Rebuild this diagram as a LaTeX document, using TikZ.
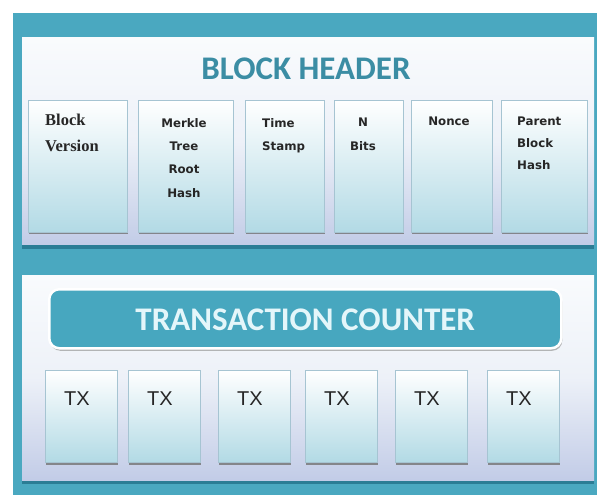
\documentclass[tikz,border=0pt]{standalone}
\usepackage{fontspec}
\usetikzlibrary{shadows}
\newfontfamily\headfont{Carlito}
\newfontfamily\fieldfont{DejaVu Sans}
\newfontfamily\versionfont{Liberation Serif}
\newfontfamily\txfont{Liberation Sans}
\definecolor{frameteal}{HTML}{4AA8C0}
\definecolor{edgeteal}{HTML}{2B7D95}
\definecolor{titleteal}{HTML}{3B8DA4}
\definecolor{paneltop}{HTML}{F9FBFD}
\definecolor{panelmid}{HTML}{EDF1F8}
\definecolor{panelbot}{HTML}{C2CCE7}
\definecolor{cellbot}{HTML}{B2DAE5}
\definecolor{celledge}{HTML}{A6C4D2}
\definecolor{counterfill}{HTML}{47A7BF}
\definecolor{countertext}{HTML}{E4F6FA}
\begin{document}
\begin{tikzpicture}[x=1pt,y=-1pt,
  frame/.style={anchor=north west, inner sep=0pt, outer sep=0pt, fill=frameteal},
  panel/.style={anchor=north west, inner sep=0pt, outer sep=0pt,
    top color=paneltop, bottom color=panelbot, middle color=panelmid,
    drop shadow={shadow xshift=0pt, shadow yshift=-3.5pt, fill=edgeteal, opacity=1}},
  cell/.style={anchor=north west, inner sep=0pt, draw=celledge, line width=0.6pt,
    top color=white, bottom color=cellbot,
    drop shadow={shadow xshift=0.6pt, shadow yshift=-2.2pt, fill=black!55, opacity=0.8}},
  counter/.style={anchor=north west, inner sep=0pt, rounded corners=10pt,
    fill=counterfill, draw=white, line width=2.5pt,
    drop shadow={shadow xshift=1pt, shadow yshift=-2.5pt, fill=black!40, opacity=0.7}},
  title/.style={font=\headfont\bfseries\fontsize{33}{38}\selectfont, text=titleteal, inner sep=0pt},
  countertitle/.style={font=\headfont\bfseries\fontsize{33}{38}\selectfont, text=countertext, inner sep=0pt},
  field/.style={font=\fieldfont\bfseries\fontsize{11.8}{23.3}\selectfont, inner sep=0pt, text=black!85},
  version/.style={font=\versionfont\bfseries\fontsize{16.5}{26}\selectfont, inner sep=0pt, text=black!85},
  txlabel/.style={font=\txfont\fontsize{20}{24}\selectfont, inner sep=0pt, text=black!85}]
\useasboundingbox (0,0) rectangle (597,497);
\fill[white] (0,0) rectangle (597,497);

% teal frame and the two panels
\node[frame, minimum width=584pt, minimum height=482pt] (outer) at (13,13) {};
\node[panel, minimum width=572pt, minimum height=207pt] (header) at (22,38) {};
\node[panel, minimum width=572pt, minimum height=205pt] (body) at (22,275) {};

\node[title, anchor=base] (headertitle) at (306,80) {BLOCK HEADER};

% header fields
\node[cell, minimum width=99pt, minimum height=132pt] (version) at (28,100) {};
\node[cell, minimum width=95pt, minimum height=132pt] (merkle) at (138,100) {};
\node[cell, minimum width=79pt, minimum height=132pt] (time) at (245,100) {};
\node[cell, minimum width=69pt, minimum height=132pt] (bits) at (334,100) {};
\node[cell, minimum width=81pt, minimum height=132pt] (nonce) at (411,100) {};
\node[cell, minimum width=86pt, minimum height=132pt] (parent) at (501,100) {};

\node[version, anchor=north west, align=left] (versiontext) at (45,113.5) {Block\\Version};
\node[field, anchor=north, align=center] (merkletext) at (184,118) {Merkle\\Tree\\Root\\Hash};
\node[field, anchor=north west, align=left] (timetext) at (262,118) {Time\\Stamp};
\node[field, anchor=north, align=center] (bitstext) at (363,118) {N\\Bits};
\node[field, anchor=north] (noncetext) at (449,117) {Nonce};
\node[field, anchor=north west, align=left, font=\fieldfont\bfseries\fontsize{11.8}{22}\selectfont] (parenttext) at (517,117) {Parent\\Block\\Hash};

% transaction counter and transactions
\node[counter, minimum width=512pt, minimum height=59pt] (count) at (48,288) {};
\node[countertitle, anchor=base] (counttitle) at (count.center |- 0,330) {TRANSACTION COUNTER};

\foreach \i/\x in {1/45,2/128,3/218,4/305,5/395,6/487}{
  \node[cell, minimum width=72pt, minimum height=92pt] (tx\i) at (\x,370) {};
  \node[txlabel, anchor=base west] (txt\i) at (\x+19,405) {TX};
}
\end{tikzpicture}
\end{document}
